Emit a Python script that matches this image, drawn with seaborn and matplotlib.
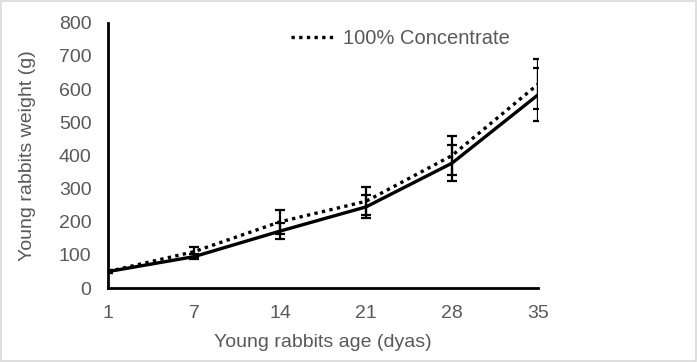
import pandas as pd
import seaborn as sns
import matplotlib.pyplot as plt

# data
ages = ['1', '7', '14', '21', '28', '35']
conc_mean = [50, 110, 200, 262, 400, 615]
conc_err = [5, 15, 36, 42, 60, 75]
other_mean = [50, 95, 172, 245, 377, 583]
other_err = [5, 8, 24, 35, 55, 80]

df = pd.DataFrame({
    'pos': list(range(len(ages))) * 2,
    'weight': conc_mean + other_mean,
    'group': ['100% Concentrate'] * len(ages) + ['Other'] * len(ages),
})

sns.set_style('white')
plt.rcParams['font.family'] = ['Liberation Sans', 'DejaVu Sans']

fig = plt.figure(figsize=(6.97, 3.62), dpi=100)
ax = fig.add_axes([0.155, 0.204, 0.617, 0.733])

sns.lineplot(data=df, x='pos', y='weight', hue='group', style='group',
             palette=['black', 'black'], dashes=[(1, 1.3), ''],
             linewidth=2.4, ax=ax, legend=False)

x = list(range(len(ages)))
ax.errorbar(x, conc_mean, yerr=conc_err, fmt='none', ecolor='black',
            elinewidth=1.6, capsize=3.5, capthick=1.6)
ax.errorbar(x, other_mean, yerr=other_err, fmt='none', ecolor='black',
            elinewidth=1.6, capsize=3.5, capthick=1.6)

ax.set_xlim(0, len(ages) - 1)
ax.set_ylim(0, 800)
ax.set_xticks(x)
ax.set_xticklabels(ages)
ax.set_yticks(range(0, 801, 100))
ax.tick_params(axis='both', length=0, labelsize=14, colors='#595959', pad=12)
for s in ['top', 'right']:
    ax.spines[s].set_visible(False)
for s in ['left', 'bottom']:
    ax.spines[s].set_color('black')
    ax.spines[s].set_linewidth(2)

ax.set_xlabel('Young rabbits age (dyas)', fontsize=14, color='#595959', labelpad=9)
ax.set_ylabel('Young rabbits weight (g)', fontsize=14, color='#595959', labelpad=16)

h, = ax.plot([], [], color='black', linewidth=2.4, linestyle=(0, (1, 1.3)))
ax.legend([h], ['100% Concentrate'], loc='upper center', bbox_to_anchor=(0.68, 1.045),
          frameon=False, fontsize=14.5, labelcolor='#595959', handlelength=2.2,
          handletextpad=0.4)

fig.patches.append(plt.Rectangle((0.001, 0.002), 0.997, 0.995, transform=fig.transFigure,
                                 fill=False, edgecolor='#d9d9d9', linewidth=1.2))

fig.savefig('out.png', dpi=100)
